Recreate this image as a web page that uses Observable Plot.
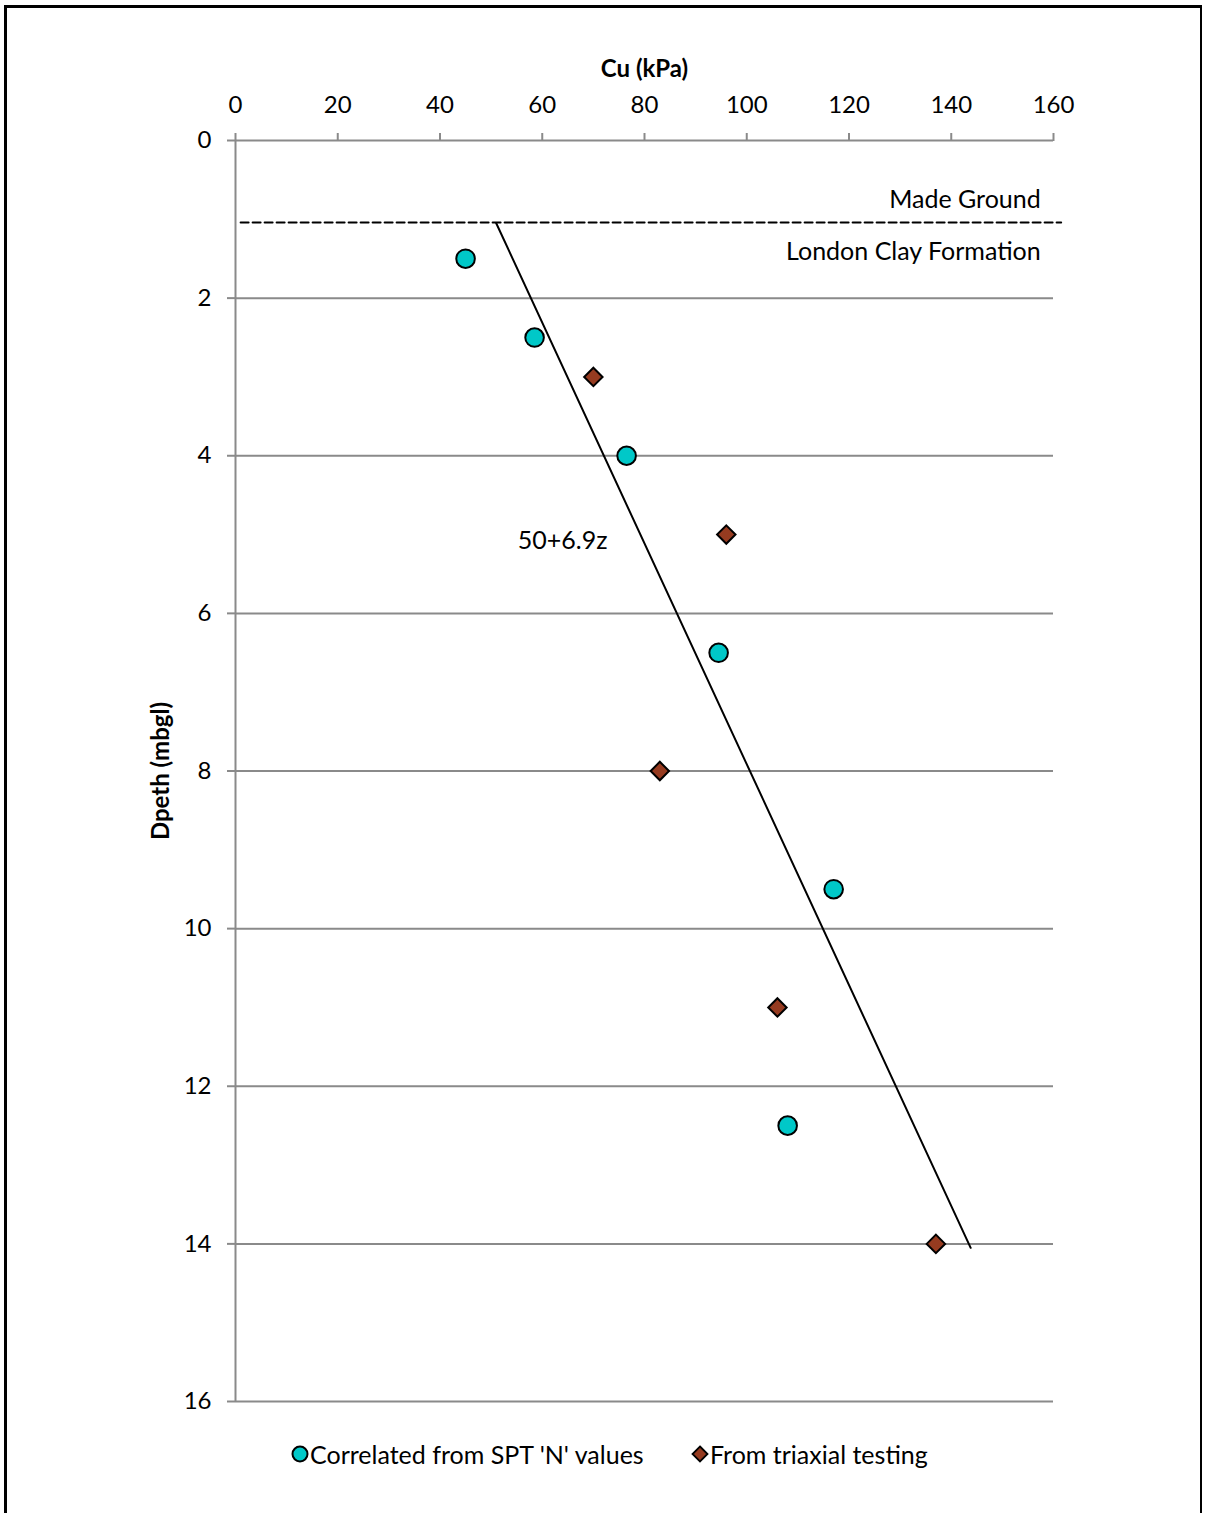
<!DOCTYPE html>
<html>
<head>
<meta charset="utf-8">
<script src="https://cdn.jsdelivr.net/npm/d3@7"></script>
<script src="https://cdn.jsdelivr.net/npm/@observablehq/plot@0.6"></script>
<style>
  html, body { margin: 0; padding: 0; background: #fff; }
  #wrap { position: relative; width: 1208px; height: 1513px; overflow: hidden; font-family: Lato, "Open Sans", sans-serif; }
  #border { position: absolute; left: 4px; top: 5px; width: 1198px; height: 1530px; border: 3px solid #000; border-right-width: 2px; box-sizing: border-box; pointer-events: none; }
  #chart { position: absolute; left: 0; top: 0; }
  .legend { position: absolute; top: 1438px; font-size: 25px; line-height: 32px; color: #000; display: flex; align-items: center; white-space: nowrap; }
  .legend svg { margin-right: 1px; }
</style>
</head>
<body>
<div id="wrap">
  <div id="chart"></div>
  <div id="border"></div>
</div>
<script>
// ---- data ----
const sptCu = [45, 58.5, 76.5, 94.5, 117, 108];
const sptDepth = [1.5, 2.5, 4, 6.5, 9.5, 12.5];
const triCu = [70, 96, 83, 106, 137];
const triDepth = [3, 5, 8, 11, 14];
const trendCu = [51, 143.8];
const trendDepth = [1.05, 14.05];
const boundaryCu = [1, 161.5];
const boundaryDepth = [1.04, 1.04];
const xTicks = [0, 20, 40, 60, 80, 100, 120, 140, 160];
const yTicks = [0, 2, 4, 6, 8, 10, 12, 14, 16];
const gridDepths = [2, 4, 6, 8, 10, 12, 14, 16];
const layerText = ["Made Ground", "London Clay Formation"];
const layerCu = [157.5, 157.5];
const layerDepth = [0.75, 1.42];
const eqText = ["50+6.9z"];
const eqCu = [64];
const eqDepth = [5.08];
const legendLabels = ["Correlated from SPT 'N' values", "From triaxial testing"];

// ---- build tables ----
const spt = sptCu.map((c, i) => ({cu: c, z: sptDepth[i]}));
const tri = triCu.map((c, i) => ({cu: c, z: triDepth[i]}));
const trend = trendCu.map((c, i) => ({cu: c, z: trendDepth[i]}));
const boundary = boundaryCu.map((c, i) => ({cu: c, z: boundaryDepth[i]}));
const layers = layerText.map((t, i) => ({t, cu: layerCu[i], z: layerDepth[i]}));
const eqs = eqText.map((t, i) => ({t, cu: eqCu[i], z: eqDepth[i]}));

const GRAY = "#8a8a8a";
const CYAN = "#00c8c8";
const BROWN = "#963b20";

const plot = Plot.plot({
  width: 1208,
  height: 1513,
  marginLeft: 235,
  marginRight: 155,
  marginTop: 140,
  marginBottom: 112,
  style: {fontFamily: "Lato, 'Open Sans', sans-serif", fontSize: "24px", color: "#000", background: "transparent"},
  x: {domain: [0, 160]},
  y: {domain: [0, 16], reverse: true},
  marks: [
    Plot.ruleY(gridDepths, {stroke: GRAY, strokeWidth: 2}),
    Plot.ruleY([0], {stroke: GRAY, strokeWidth: 2}),
    Plot.ruleX([0], {stroke: GRAY, strokeWidth: 2}),
    Plot.axisX({anchor: "top", ticks: xTicks, tickSize: 8, tickPadding: 20, stroke: GRAY, strokeWidth: 2, fill: "#000",
      label: "Cu (kPa)", labelAnchor: "center", labelOffset: 81, labelArrow: "none", fontSize: 24}),
    Plot.axisY({anchor: "left", ticks: yTicks, tickSize: 8, tickPadding: 16, stroke: GRAY, strokeWidth: 2, fill: "#000",
      label: "Dpeth (mbgl)", labelAnchor: "center", labelOffset: 84, labelArrow: "none", fontSize: 24}),
    Plot.line(boundary, {x: "cu", y: "z", stroke: "#000", strokeWidth: 2, strokeDasharray: "8,4", clip: false}),
    Plot.line(trend, {x: "cu", y: "z", stroke: "#000", strokeWidth: 2}),
    Plot.dot(spt, {x: "cu", y: "z", r: 9.3, fill: CYAN, stroke: "#000", strokeWidth: 2}),
    Plot.dot(tri, {x: "cu", y: "z", r: 8.3, symbol: "diamond2", fill: BROWN, stroke: "#000", strokeWidth: 2}),
    Plot.text(layers, {x: "cu", y: "z", text: "t", textAnchor: "end", fontSize: 25, fill: "#000"}),
    Plot.text(eqs, {x: "cu", y: "z", text: "t", textAnchor: "middle", fontSize: 25, fill: "#000"})
  ]
});

// bold axis labels
d3.select(plot).selectAll('g[aria-label="x-axis label"] text, g[aria-label="y-axis label"] text')
  .attr("font-weight", "bold").attr("font-size", 24);

document.getElementById("chart").appendChild(plot);

// ---- legend (HTML) ----
const wrap = document.getElementById("wrap");
const legendLeft = [291, 691];
legendLabels.forEach((lab, i) => {
  const div = document.createElement("div");
  div.className = "legend";
  div.style.left = legendLeft[i] + "px";
  const sym = i === 0
    ? `<svg width="18" height="18" viewBox="-9 -9 18 18"><circle r="7.5" fill="${CYAN}" stroke="#000" stroke-width="2"/></svg>`
    : `<svg width="18" height="18" viewBox="-9 -9 18 18"><path d="M0,-7.5L7.5,0L0,7.5L-7.5,0Z" fill="${BROWN}" stroke="#000" stroke-width="1.8"/></svg>`;
  div.innerHTML = sym + `<span>${lab}</span>`;
  wrap.appendChild(div);
});
</script>
</body>
</html>
